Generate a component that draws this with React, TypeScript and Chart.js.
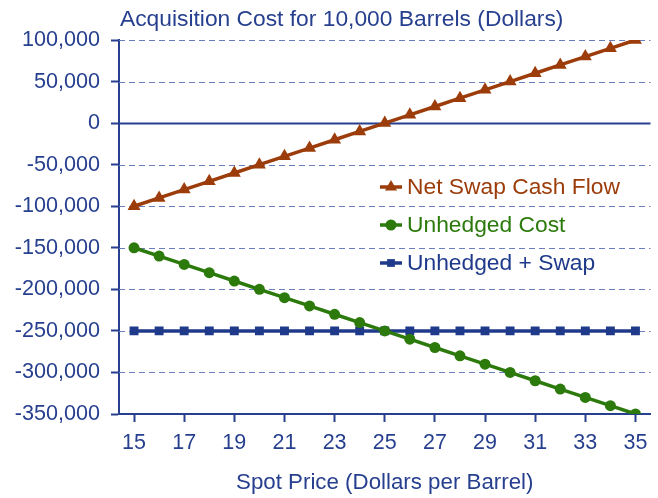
import React, { useEffect, useRef } from "react";
import { Chart, registerables } from "chart.js";

Chart.register(...registerables);

const spotPrices = [15, 16, 17, 18, 19, 20, 21, 22, 23, 24, 25, 26, 27, 28, 29, 30, 31, 32, 33, 34, 35];
const netSwapCashFlow = [
  -100000, -90000, -80000, -70000, -60000, -50000, -40000, -30000, -20000, -10000, 0,
  10000, 20000, 30000, 40000, 50000, 60000, 70000, 80000, 90000, 100000,
];
const unhedgedCost = [
  -150000, -160000, -170000, -180000, -190000, -200000, -210000, -220000, -230000, -240000, -250000,
  -260000, -270000, -280000, -290000, -300000, -310000, -320000, -330000, -340000, -350000,
];
const unhedgedPlusSwap = [
  -250000, -250000, -250000, -250000, -250000, -250000, -250000, -250000, -250000, -250000, -250000,
  -250000, -250000, -250000, -250000, -250000, -250000, -250000, -250000, -250000, -250000,
];
const xTickValues = [15, 17, 19, 21, 23, 25, 27, 29, 31, 33, 35];
const yTickValues = [100000, 50000, 0, -50000, -100000, -150000, -200000, -250000, -300000, -350000];
const seriesNames = ["Net Swap Cash Flow", "Unhedged Cost", "Unhedged + Swap"];
const chartTitle = "Acquisition Cost for 10,000 Barrels (Dollars)";
const xAxisTitle = "Spot Price (Dollars per Barrel)";

const AXIS = "#263f8e";
const GRID = "#6a7dbd";
const BROWN = "#9c3c0a";
const GREEN = "#2c7a0c";
const NAVY = "#1f3a8a";
const FONT = "'Liberation Sans', Arial, sans-serif";

const seriesColors = [BROWN, GREEN, NAVY];
const seriesStyles = ["triangle", "circle", "rect"];

function drawMarker(ctx: CanvasRenderingContext2D, style: string, x: number, y: number, r: number) {
  ctx.beginPath();
  if (style === "triangle") {
    ctx.moveTo(x, y - r);
    ctx.lineTo(x + r * 0.866, y + r * 0.5);
    ctx.lineTo(x - r * 0.866, y + r * 0.5);
    ctx.closePath();
  } else if (style === "circle") {
    ctx.arc(x, y, r, 0, Math.PI * 2);
  } else {
    const s = r * Math.SQRT1_2;
    ctx.rect(x - s, y - s, 2 * s, 2 * s);
  }
  ctx.fill();
}

const decorPlugin = {
  id: "decor",
  beforeDatasetsDraw(chart: any) {
    const { ctx, chartArea } = chart;
    const ys = chart.scales.y;
    ctx.save();
    for (const v of yTickValues) {
      if (v === ys.min) continue;
      const py = Math.round(ys.getPixelForValue(v)) + 0.5;
      ctx.beginPath();
      if (v === 0) {
        ctx.setLineDash([]);
        ctx.strokeStyle = AXIS;
        ctx.lineWidth = 2;
      } else {
        ctx.setLineDash([6, 4]);
        ctx.strokeStyle = GRID;
        ctx.lineWidth = 1;
      }
      ctx.moveTo(chartArea.left, py);
      ctx.lineTo(chartArea.right, py);
      ctx.stroke();
    }
    ctx.restore();
  },
  afterDatasetsDraw(chart: any) {
    const { ctx, chartArea } = chart;
    ctx.save();
    // title
    ctx.fillStyle = AXIS;
    ctx.font = `22.8px ${FONT}`;
    ctx.textAlign = "left";
    ctx.textBaseline = "middle";
    ctx.fillText(chartTitle, chartArea.left + 1, 20);
    // legend
    const lx = 380;
    const rows = [187, 225, 263];
    seriesNames.forEach((name, i) => {
      const y = rows[i];
      ctx.strokeStyle = seriesColors[i];
      ctx.fillStyle = seriesColors[i];
      ctx.lineWidth = 3.5;
      ctx.setLineDash([]);
      ctx.beginPath();
      ctx.moveTo(lx, y);
      ctx.lineTo(lx + 22, y);
      ctx.stroke();
      drawMarker(ctx, seriesStyles[i], lx + 11, y, seriesStyles[i] === "triangle" ? 7 : 5.5);
      ctx.font = `22.8px ${FONT}`;
      ctx.textAlign = "left";
      ctx.textBaseline = "middle";
      ctx.fillText(name, lx + 27, y + 1);
    });
    ctx.restore();
  },
};

export default function App() {
  const ref = useRef<HTMLCanvasElement>(null);
  useEffect(() => {
    if (!ref.current) return;
    const mk = (vals: number[]) => spotPrices.map((x, i) => ({ x, y: vals[i] }));
    const chart = new Chart(ref.current, {
      type: "line",
      data: {
        datasets: [
          {
            label: seriesNames[0],
            data: mk(netSwapCashFlow),
            borderColor: BROWN,
            backgroundColor: BROWN,
            borderWidth: 3.5,
            pointStyle: "triangle",
            pointRadius: 7.5,
            pointBorderWidth: 0,
            order: 0,
          },
          {
            label: seriesNames[1],
            data: mk(unhedgedCost),
            borderColor: GREEN,
            backgroundColor: GREEN,
            borderWidth: 3.5,
            pointStyle: "circle",
            pointRadius: 5.5,
            pointBorderWidth: 0,
            order: 1,
          },
          {
            label: seriesNames[2],
            data: mk(unhedgedPlusSwap),
            borderColor: NAVY,
            backgroundColor: NAVY,
            borderWidth: 3.5,
            pointStyle: "rect",
            pointRadius: 6.3,
            pointBorderWidth: 0,
            order: 2,
          },
        ],
      },
      options: {
        responsive: false,
        animation: false,
        events: [],
        layout: { padding: { top: 40, right: 5, left: 0, bottom: 0 } },
        plugins: { legend: { display: false }, tooltip: { enabled: false }, title: { display: false } },
        scales: {
          x: {
            type: "linear",
            min: 14.4,
            max: 35.6,
            afterBuildTicks: (s: any) => {
              s.ticks = xTickValues.map((v) => ({ value: v }));
            },
            afterFit: (s: any) => {
              s.height = 84;
            },
            grid: {
              drawOnChartArea: false,
              drawTicks: true,
              tickLength: 8,
              tickColor: AXIS,
              tickWidth: 2,
            },
            border: { display: true, color: AXIS, width: 2 },
            ticks: {
              autoSkip: false,
              maxRotation: 0,
              color: AXIS,
              padding: 8,
              font: { family: FONT, size: 21.5 },
              callback: (v: any) => String(v),
            },
            title: {
              display: true,
              text: xAxisTitle,
              color: AXIS,
              font: { family: FONT, size: 22.3 },
              padding: { top: 4, bottom: 2 },
            },
          },
          y: {
            type: "linear",
            min: -350000,
            max: 100000,
            afterBuildTicks: (s: any) => {
              s.ticks = yTickValues.map((v) => ({ value: v }));
            },
            afterFit: (s: any) => {
              s.width = 119;
            },
            grid: {
              drawOnChartArea: false,
              drawTicks: true,
              tickLength: 8,
              tickColor: AXIS,
              tickWidth: 2,
            },
            border: { display: true, color: AXIS, width: 2 },
            ticks: {
              autoSkip: false,
              color: AXIS,
              padding: 11,
              font: { family: FONT, size: 21.6 },
              callback: (v: any) => Number(v).toLocaleString("en-US"),
            },
          },
        },
      },
      plugins: [decorPlugin],
    });
    return () => chart.destroy();
  }, []);
  return (
    <div style={{ position: "fixed", left: 0, top: 0, width: 658, height: 498, background: "#fff" }}>
      <canvas ref={ref} width={658} height={498} style={{ width: 658, height: 498, display: "block" }} />
    </div>
  );
}
